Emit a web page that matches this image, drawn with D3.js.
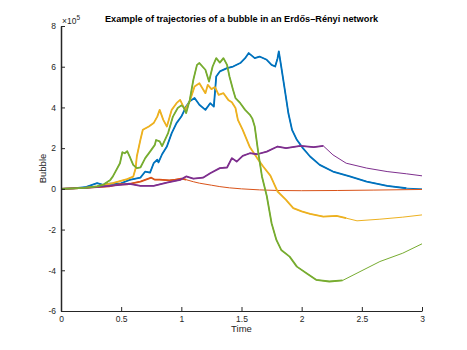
<!DOCTYPE html>
<html>
<head>
<meta charset="utf-8">
<script src="https://cdn.jsdelivr.net/npm/d3@7"></script>
<style>
	body { margin: 0; background: #fff; }
	svg text { font-family: "Liberation Sans", Arial, Helvetica, sans-serif; }
	.axis path, .axis line { stroke: #262626; }
	.axis text { fill: #262626; font-size: 8.5px; }
</style>
</head>
<body>
<div id="chart"></div>
<script>

// values, bubble in units of 1e5
var xTicks = [0, 0.5, 1, 1.5, 2, 2.5, 3];
var yTicks = [-6, -4, -2, 0, 2, 4, 6, 8];

var blue = [[0,0],[0.1,0.02],[0.2,0.08],[0.3,0.28],[0.35,0.2],[0.4,0.25],[0.49,0.25],[0.57,0.44],[0.66,0.55],[0.70,0.85],[0.74,0.8],[0.77,1.26],[0.80,1.43],[0.81,1.3],[0.84,1.7],[0.88,2.08],[0.92,2.74],[0.96,3.23],[1.0,3.55],[1.04,4.04],[1.07,4.3],[1.11,4.46],[1.15,4.13],[1.20,3.88],[1.24,4.21],[1.27,4.04],[1.29,5.52],[1.32,5.77],[1.38,5.93],[1.43,6.01],[1.49,6.18],[1.53,6.42],[1.56,6.67],[1.61,6.42],[1.65,6.5],[1.71,6.34],[1.75,6.09],[1.78,6.01],[1.80,6.42],[1.81,6.75],[1.83,6.01],[1.86,4.86],[1.89,3.7],[1.92,2.90],[1.96,2.41],[2.01,2.0],[2.07,1.59],[2.15,1.18],[2.26,0.85],[2.40,0.61],[2.54,0.36],[2.71,0.15],[2.87,0.03],[3.0,0.0]];

var orange = [[0,0],[0.2,0.05],[0.4,0.12],[0.49,0.23],[0.55,0.22],[0.66,0.36],[0.75,0.55],[0.78,0.45],[0.82,0.45],[0.9,0.42],[0.95,0.45],[1.0,0.5],[1.04,0.45],[1.1,0.35],[1.15,0.28],[1.25,0.18],[1.32,0.11],[1.4,0.05],[1.5,0.0],[1.65,-0.05],[1.8,-0.08],[2.0,-0.09],[2.3,-0.08],[2.6,-0.06],[3.0,-0.03]];

var yellow = [[0,0],[0.2,0.05],[0.3,0.12],[0.43,0.28],[0.55,0.48],[0.60,0.6],[0.62,1.0],[0.63,1.59],[0.66,2.41],[0.68,2.9],[0.73,3.06],[0.77,3.23],[0.80,3.55],[0.82,3.88],[0.85,3.39],[0.88,3.06],[0.92,3.88],[0.96,4.21],[0.99,4.37],[1.03,3.88],[1.07,4.3],[1.11,5.03],[1.15,5.19],[1.20,4.70],[1.22,5.11],[1.25,4.9],[1.28,5.0],[1.31,4.62],[1.35,4.7],[1.39,4.37],[1.42,4.25],[1.45,3.97],[1.47,3.39],[1.51,2.90],[1.57,2.04],[1.63,1.51],[1.68,1.10],[1.74,0.65],[1.80,-0.13],[1.87,-0.54],[1.93,-0.95],[2.0,-1.11],[2.07,-1.23],[2.18,-1.36],[2.29,-1.33],[2.37,-1.44],[2.46,-1.57],[2.65,-1.49],[2.84,-1.39],[3.0,-1.28]];

var purple = [[0,0],[0.2,0.05],[0.4,0.15],[0.49,0.2],[0.57,0.25],[0.66,0.15],[0.77,0.15],[0.88,0.31],[0.99,0.44],[1.04,0.61],[1.10,0.5],[1.18,0.55],[1.24,0.77],[1.32,1.02],[1.38,1.05],[1.42,1.51],[1.46,1.34],[1.51,1.62],[1.57,1.75],[1.63,1.7],[1.71,1.83],[1.80,2.08],[1.87,2.0],[1.99,2.11],[2.10,2.05],[2.18,2.11],[2.26,1.67],[2.37,1.26],[2.54,1.02],[2.71,0.85],[2.87,0.74],[3.0,0.64]];

var green = [[0,0],[0.2,0.05],[0.3,0.12],[0.35,0.2],[0.41,0.44],[0.43,0.6],[0.49,1.26],[0.51,1.8],[0.53,1.75],[0.55,1.85],[0.57,1.6],[0.60,1.18],[0.63,1.02],[0.66,1.05],[0.70,1.51],[0.74,1.83],[0.78,2.16],[0.79,2.4],[0.82,2.33],[0.84,2.1],[0.89,2.74],[0.93,3.55],[0.97,3.97],[1.0,4.1],[1.02,4.0],[1.04,3.72],[1.07,4.37],[1.10,5.36],[1.13,6.09],[1.15,6.18],[1.20,5.85],[1.23,5.27],[1.26,6.01],[1.29,6.42],[1.32,6.2],[1.35,6.42],[1.38,6.09],[1.40,5.52],[1.43,4.86],[1.45,4.46],[1.49,4.21],[1.53,3.88],[1.57,3.64],[1.59,3.45],[1.61,3.06],[1.64,1.75],[1.67,0.61],[1.71,-0.35],[1.75,-1.69],[1.79,-2.51],[1.83,-3.0],[1.90,-3.33],[1.96,-3.82],[2.04,-4.14],[2.12,-4.47],[2.23,-4.55],[2.34,-4.5],[2.46,-4.14],[2.65,-3.57],[2.84,-3.16],[3.0,-2.70]];

// time after which each trajectory turns smooth (no more jitter)
var noisyUntil = { blue: 2.9, orange: 1.04, yellow: 2.37, purple: 2.18, green: 2.34 };

var series = [
	{ name: 'blue', color: '#0072BD', values: blue },
	{ name: 'orange', color: '#D95319', values: orange },
	{ name: 'yellow', color: '#EDB120', values: yellow },
	{ name: 'purple', color: '#7E2F8E', values: purple },
	{ name: 'green', color: '#77AC30', values: green }
];

var chart = {
	width: 467,
	height: 350,
	left: 61,
	right: 422,
	top: 26,
	bottom: 311
};

var svg = d3.select('#chart')
	.append('svg')
	.attr('width', chart.width)
	.attr('height', chart.height);

var xScale = d3.scaleLinear()
	.domain([0, 3])
	.range([chart.left, chart.right]);

var yScale = d3.scaleLinear()
	.domain([-6, 8])
	.range([chart.bottom, chart.top]);

var line = d3.line()
	.x(function (d) { return xScale(d[0]); })
	.y(function (d) { return yScale(d[1]); });

// lines: thin full path, plus a wider stroke over the jittery part
var lines = svg.append('g')
	.selectAll('g')
	.data(series)
	.enter()
	.append('g');

lines.append('path')
	.attr('fill', 'none')
	.attr('stroke', function (d) { return d.color; })
	.attr('stroke-width', 1)
	.attr('stroke-linejoin', 'round')
	.attr('d', function (d) { return line(d.values); });

lines.append('path')
	.attr('fill', 'none')
	.attr('stroke', function (d) { return d.color; })
	.attr('stroke-width', 1.8)
	.attr('stroke-linejoin', 'round')
	.attr('d', function (d) {
		return line(d.values.filter(function (p) { return p[0] <= noisyUntil[d.name]; }));
	});

// axes, ticks pointing inward like matlab
var xAxis = d3.axisBottom(xScale)
	.tickValues(xTicks)
	.tickSizeInner(-4)
	.tickSizeOuter(0)
	.tickPadding(5)
	.tickFormat(function (d) { return String(d); });

var yAxis = d3.axisLeft(yScale)
	.tickValues(yTicks)
	.tickSizeInner(-4)
	.tickSizeOuter(0)
	.tickPadding(5)
	.tickFormat(function (d) { return String(d); });

svg.append('g')
	.attr('class', 'axis x-axis')
	.attr('transform', 'translate(0,' + chart.bottom + ')')
	.call(xAxis);

svg.append('g')
	.attr('class', 'axis y-axis')
	.attr('transform', 'translate(' + chart.left + ',0)')
	.call(yAxis);

svg.select('.y-axis .domain').attr('stroke', '#777').attr('stroke-width', 1.5);

// labels
svg.append('text')
	.attr('x', (chart.left + chart.right) / 2)
	.attr('y', 22)
	.attr('text-anchor', 'middle')
	.style('font-size', '9.2px')
	.style('font-weight', 'bold')
	.attr('fill', '#000')
	.text('Example of trajectories of a bubble in an Erdős–Rényi network');

svg.append('text')
	.attr('x', (chart.left + chart.right) / 2)
	.attr('y', 332)
	.attr('text-anchor', 'middle')
	.style('font-size', '9.5px')
	.attr('fill', '#262626')
	.text('Time');

svg.append('text')
	.attr('transform', 'translate(46,' + (chart.top + chart.bottom) / 2 + ') rotate(-90)')
	.attr('text-anchor', 'middle')
	.style('font-size', '9.5px')
	.attr('fill', '#262626')
	.text('Bubble');

var expo = svg.append('text')
	.attr('x', chart.left + 1)
	.attr('y', 24)
	.style('font-size', '8.5px')
	.attr('fill', '#262626');
expo.append('tspan').text('×10');
expo.append('tspan').attr('dy', -4).style('font-size', '6.5px').text('5');

</script>
</body>
</html>
